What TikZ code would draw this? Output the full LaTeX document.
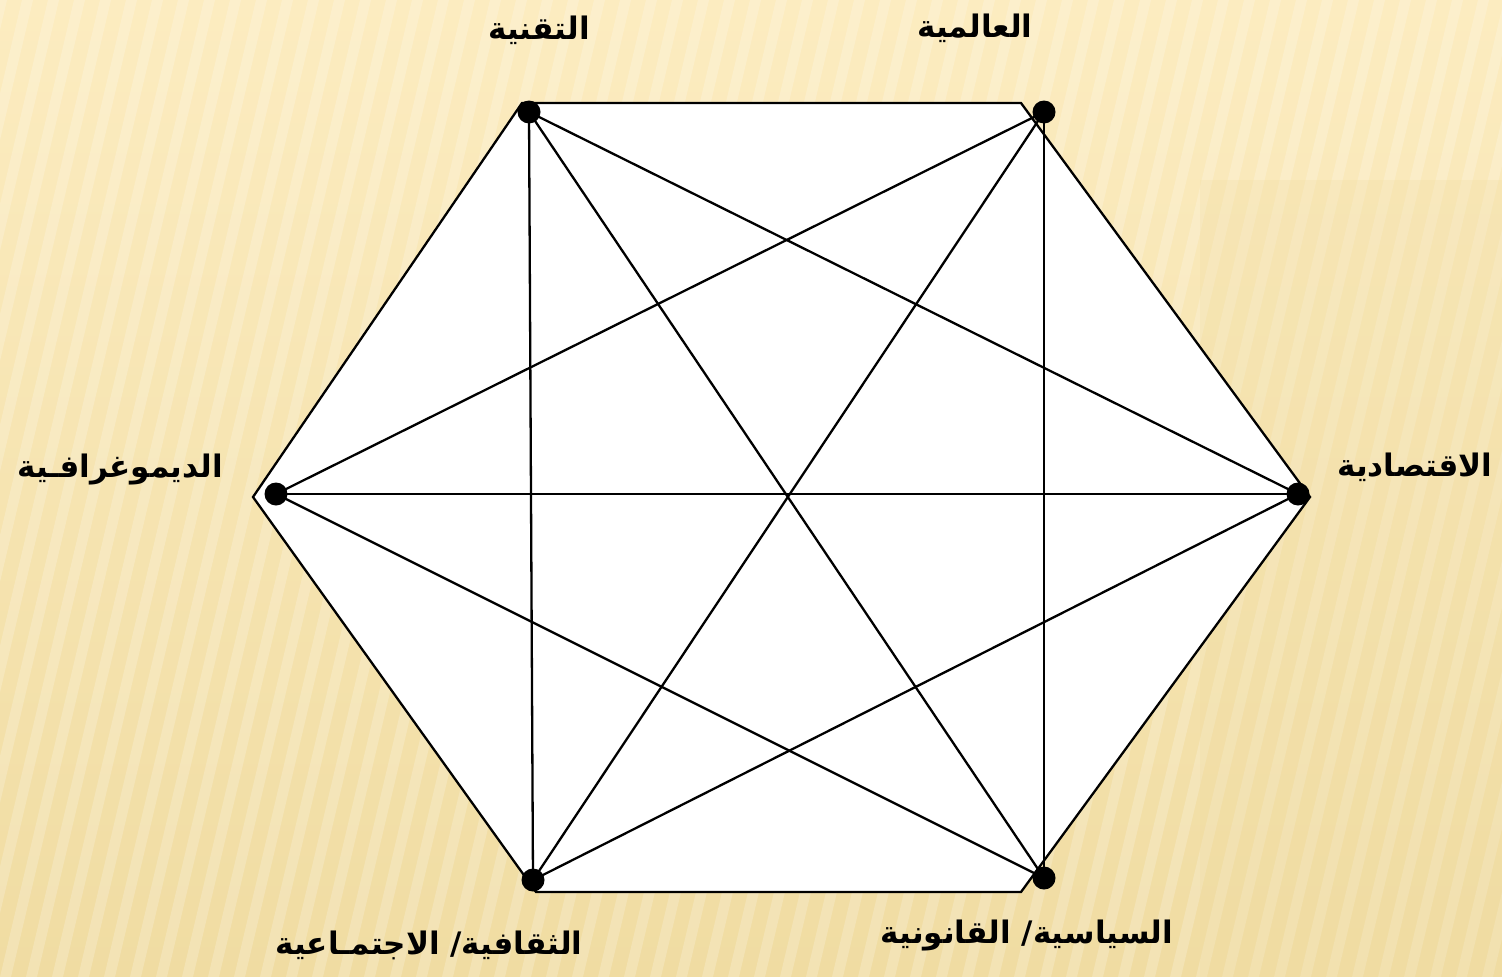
\documentclass[tikz,border=0pt]{standalone}
\usepackage{fontspec}
\newfontfamily\arabicfont[Script=Arabic]{DejaVu Sans}
\TeXXeTstate=1
\definecolor{bgtop}{RGB}{252,236,192}
\definecolor{bgbot}{RGB}{240,220,162}
\tikzset{
  dot/.style={circle, fill=black, inner sep=0pt, minimum size=23pt},
  link/.style={draw=black, line width=2.3pt},
  lbl/.style={font=\arabicfont\bfseries\fontsize{31}{36}\selectfont, inner sep=0pt},
}
\begin{document}
\begin{tikzpicture}[x=1pt,y=-1pt]
\useasboundingbox (0,0) rectangle (1502,977);
\begin{scope}
\clip (0,0) rectangle (1502,977);
\shade[top color=bgtop, bottom color=bgbot] (0,0) rectangle (1502,977);
\foreach \i in {-14,...,60} {
  \fill[white, opacity=0.2] ({\i*26},977) -- ({\i*26+11},977) -- ({\i*26+241},0) -- ({\i*26+230},0) -- cycle;
}
\fill[bgbot, opacity=0.25] (1200,180) rectangle (1502,977);
\end{scope}
% hexagon
\coordinate (h1) at (522,103);
\coordinate (h2) at (1021,103);
\coordinate (h3) at (1310,497);
\coordinate (h4) at (1021,892);
\coordinate (h5) at (536,892);
\coordinate (h6) at (253,497);
\filldraw[fill=white, draw=black, line width=2.3pt, line join=miter] (h1) -- (h2) -- (h3) -- (h4) -- (h5) -- (h6) -- cycle;
% dots
\node[dot] (tq) at (529,112) {};
\node[dot] (al) at (1044,112) {};
\node[dot] (iq) at (1298,494) {};
\node[dot] (sy) at (1044,878) {};
\node[dot] (th) at (533,880) {};
\node[dot] (dm) at (276,494) {};
% diagonals
\draw[link] (tq.center) -- (iq.center);
\draw[link] (tq.center) -- (sy.center);
\draw[link] (tq.center) -- (th.center);
\draw[link] (al.center) -- (dm.center);
\draw[link] (al.center) -- (th.center);
\draw[link] (al.center) -- (sy.center);
\draw[link] (dm.center) -- (iq.center);
\draw[link] (dm.center) -- (sy.center);
\draw[link] (iq.center) -- (th.center);
% labels
\node[lbl] (ltq) at (539,30) {\beginR التقنية\endR};
\node[lbl] (lal) at (975,28) {\beginR العالمية\endR};
\node[lbl] (ldm) at (120,470) {\beginR الديموغرافـية\endR};
\node[lbl] (liq) at (1415,467) {\beginR الاقتصادية\endR};
\node[lbl] (lth) at (429,945) {\beginR الثقافية/ الاجتمـاعية\endR};
\node[lbl] (lsy) at (1027,935) {\beginR السياسية/ القانونية\endR};
\end{tikzpicture}
\end{document}
